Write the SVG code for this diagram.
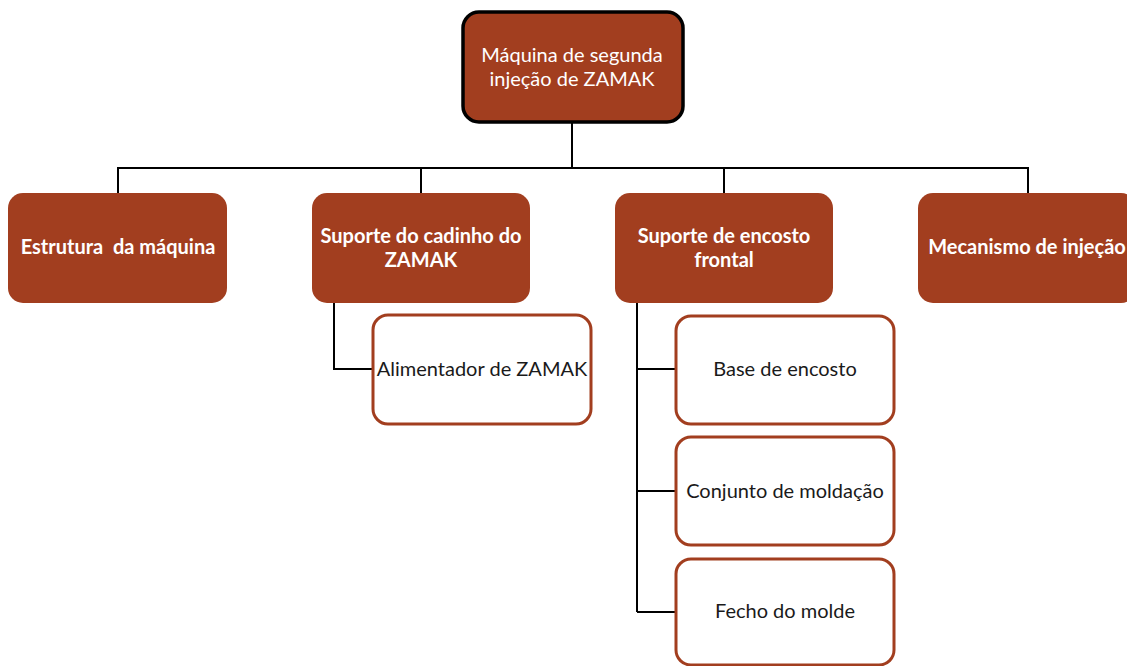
<svg xmlns="http://www.w3.org/2000/svg" width="1127" height="666" viewBox="0 0 1127 666">
<style>
.lvl2{fill:#A23E1F;}
.child{fill:#FFFFFF;stroke:#A23E1F;stroke-width:3;}
.root{fill:#A23E1F;stroke:#000000;stroke-width:3.5;}
.wt{font-family:Lato,"Open Sans",sans-serif;font-size:20px;fill:#FFFFFF;text-anchor:middle;}
.bt{font-family:Lato,"Open Sans",sans-serif;font-size:20px;font-weight:bold;fill:#FFFFFF;text-anchor:middle;}
.ct{font-family:Lato,"Open Sans",sans-serif;font-size:20px;fill:#1A1A1A;text-anchor:middle;}
.conn{fill:none;stroke:#000000;stroke-width:2;}
</style>
<rect width="1127" height="666" fill="#FFFFFF"/>
<g id="connectors">
<path class="conn" d="M572,122 V168 M118,193 V168 H1028 V193 M421,168 V193 M724,168 V193"/>
<path class="conn" d="M334,303 V369 H372"/>
<path class="conn" d="M637,303 V612 M637,369 H675 M637,491 H675 M637,612 H675"/>
</g>
<g id="root">
<rect class="root" x="463" y="12" width="220" height="110" rx="16"/>
<text class="wt" x="572" y="62">Máquina de segunda</text>
<text class="wt" x="572" y="86">injeção de ZAMAK</text>
</g>
<g id="estrutura">
<rect class="lvl2" x="8" y="193" width="219" height="110" rx="15"/>
<text class="bt" x="118" y="254" xml:space="preserve">Estrutura  da máquina</text>
</g>
<g id="suporte-cadinho">
<rect class="lvl2" x="312" y="193" width="218" height="110" rx="15"/>
<text class="bt" x="421" y="243">Suporte do cadinho do</text>
<text class="bt" x="421" y="267">ZAMAK</text>
</g>
<g id="suporte-encosto">
<rect class="lvl2" x="615" y="193" width="218" height="110" rx="15"/>
<text class="bt" x="724" y="243">Suporte de encosto</text>
<text class="bt" x="724" y="267">frontal</text>
</g>
<g id="mecanismo">
<rect class="lvl2" x="918" y="193" width="218" height="110" rx="15"/>
<text class="bt" x="1027" y="254">Mecanismo de injeção</text>
</g>
<g id="alimentador">
<rect class="child" x="373" y="315" width="218" height="109" rx="15"/>
<text class="ct" x="482" y="376" font-size="19.5">Alimentador de ZAMAK</text>
</g>
<g id="base-encosto">
<rect class="child" x="676" y="316" width="218" height="108" rx="15"/>
<text class="ct" x="785" y="376">Base de encosto</text>
</g>
<g id="conjunto-moldacao">
<rect class="child" x="676" y="437" width="218" height="108" rx="15"/>
<text class="ct" x="785" y="498">Conjunto de moldação</text>
</g>
<g id="fecho-molde">
<rect class="child" x="676" y="559" width="218" height="106" rx="15"/>
<text class="ct" x="785" y="618">Fecho do molde</text>
</g>
</svg>
